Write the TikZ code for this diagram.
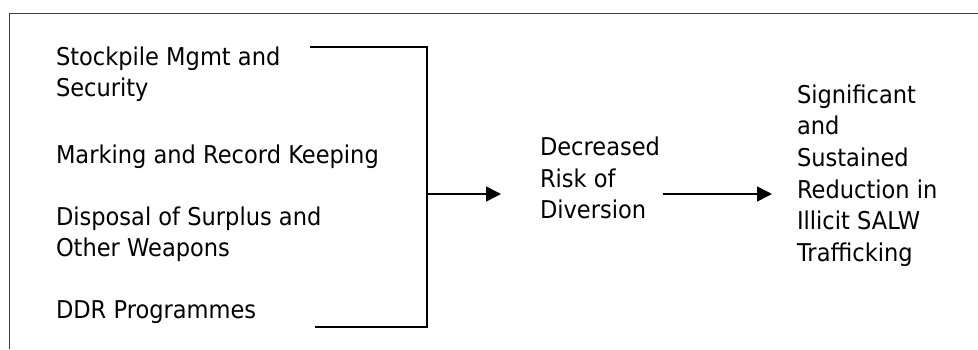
\documentclass[tikz,border=0pt]{standalone}
\usepackage{fontspec}
\setmainfont[FakeStretch=0.92]{DejaVu Sans}
\usetikzlibrary{arrows.meta}
\newcommand\tstr{\rule{0pt}{20bp}}
\begin{document}
\begin{tikzpicture}[x=1bp,y=-1bp,
  lbl/.style={anchor=north west, inner sep=0pt, outer sep=0pt, align=left, font=\fontsize{24.5bp}{31.7bp}\selectfont},
  conn/.style={line width=1.6bp, draw=black},
  arr/.style={conn, -{Triangle[length=15bp,width=15bp]}},
  frame/.style={line width=1bp, draw=black!75}]
\useasboundingbox (0,0) rectangle (978,349);
\draw[frame] (9,349) -- (9,13) -- (978,13);
\node[lbl] (stock) at (56,45) {\tstr Stockpile Mgmt and\\Security};
\node[lbl] (mark) at (56,143) {\tstr Marking and Record Keeping};
\node[lbl] (disp) at (56,205) {\tstr Disposal of Surplus and\\Other Weapons};
\node[lbl] (ddr) at (56,298) {\tstr DDR Programmes};
\node[lbl] (dec) at (540,135.5) {\tstr Decreased\\Risk of\\Diversion};
\node[lbl] (res) at (797,83) {\tstr Significant\\and\\Sustained\\Reduction in\\Illicit SALW\\Trafficking};
\coordinate (bt) at (310,47);
\coordinate (btr) at (427,47);
\coordinate (bbr) at (427,327);
\coordinate (bb) at (315,327);
\coordinate (bv) at (427,194);
\draw[conn] (bt) -- (btr) -- (bbr) -- (bb);
\draw[arr, shorten >=39bp] (bv) -- (bv -| dec.west);
\draw[arr, shorten <=3bp, shorten >=25bp] (bv -| dec.east) -- (bv -| res.west);
\end{tikzpicture}
\end{document}
